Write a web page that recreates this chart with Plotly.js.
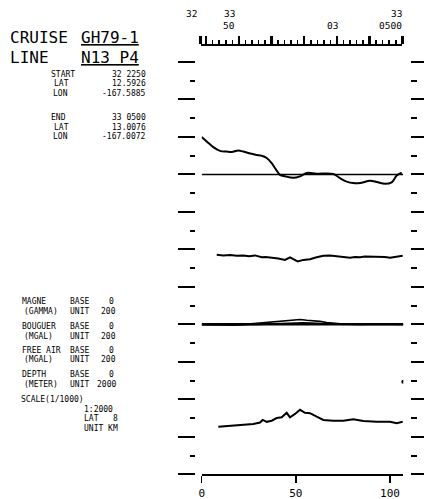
<!DOCTYPE html>
<html><head><meta charset="utf-8">
<script src="https://cdn.plot.ly/plotly-3.0.1.min.js"></script>
<style>html,body{margin:0;padding:0;background:#fff}#chart{width:424px;height:499px}</style>
</head><body><div id="chart"></div>
<script>
// ---- data (distance in km along track; values in chart divisions) ----
const magDist = [0, 2.66, 6.16, 9.72, 13.28, 15.93, 19.44, 22.09, 26.55, 29.21, 31.86, 34.52, 37.17, 39.46, 41.58, 44.24, 48.65, 52.20, 55.76, 61.07, 69.89, 73.45, 77.00, 80.51, 84.07, 89.38, 92.94, 97.34, 100.90, 103.56, 106.21];
const magVal  = [9.00, 8.88, 8.73, 8.63, 8.61, 8.60, 8.64, 8.61, 8.55, 8.52, 8.50, 8.44, 8.30, 8.13, 7.99, 7.95, 7.91, 7.95, 8.04, 8.02, 8.01, 7.90, 7.81, 7.77, 7.77, 7.83, 7.80, 7.75, 7.79, 7.97, 8.05];
const magBase = 8;

const track2Dist = [7.97, 11.5, 15.03, 18.6, 22.09, 25.2, 28.31, 31.86, 34.0, 36.27, 40.68, 44.24, 46.89, 48.65, 50.98, 53.96, 57.51, 61.07, 64.58, 68.14, 70.8, 73.45, 76.1, 78.76, 81.4, 84.07, 86.7, 89.38, 92.0, 94.69, 97.3, 100.0, 103.4, 106.74];
const track2Val  = [5.86, 5.84, 5.85, 5.83, 5.84, 5.82, 5.84, 5.79, 5.80, 5.79, 5.76, 5.72, 5.79, 5.74, 5.68, 5.72, 5.74, 5.79, 5.83, 5.84, 5.82, 5.81, 5.79, 5.78, 5.80, 5.79, 5.81, 5.81, 5.79, 5.79, 5.80, 5.78, 5.81, 5.83];

const gravBase = 4;
const freeAirDist = [0, 9.72, 17.7, 23.0, 28.3, 34.5, 39.8, 45.1, 48.6, 52.2, 55.8, 59.3, 62.8, 66.4, 69.9, 75.2, 84.1, 94.7, 107.06];
const freeAirVal  = [4.00, 3.99, 3.98, 4.00, 4.02, 4.05, 4.07, 4.10, 4.11, 4.13, 4.11, 4.10, 4.08, 4.05, 4.03, 4.01, 4.00, 4.01, 4.00];
const bouguerDist = [0, 10, 20, 30, 36.3, 46.9, 54.0, 61.0, 68.0, 80.0, 95.0, 107.06];
const bouguerVal  = [3.99, 3.98, 3.99, 4.00, 4.01, 4.03, 4.04, 4.03, 4.01, 4.00, 3.99, 4.00];

const depthDist = [8.82, 15.03, 22.09, 27.40, 30.96, 32.40, 34.52, 37.17, 39.83, 42.49, 45.14, 46.89, 49.55, 52.20, 54.86, 57.51, 61.07, 64.58, 69.89, 75.20, 80.51, 85.82, 92.94, 100.00, 103.56, 106.74];
const depthVal  = [1.27, 1.29, 1.31, 1.34, 1.38, 1.45, 1.40, 1.43, 1.50, 1.52, 1.64, 1.52, 1.61, 1.72, 1.64, 1.63, 1.54, 1.45, 1.43, 1.43, 1.47, 1.42, 1.40, 1.40, 1.36, 1.40];
const strayDist = [107.06];
const strayVal  = [2.47];

const distTicks = [0, 50, 100];
const distTickText = ['0', '50', '100'];
// time ruler: minutes after 32 2250
const rulerMajor = [0, 10, 70, 130, 190, 250, 310, 370];
const rulerEnd = 370;

// ---- text ----
const cruiseText = ['CRUISE', 'GH79-1'];
const lineText = ['LINE', 'N13 P4'];
const startLabels = ['START', 'LAT', 'LON'];
const startValues = ['32 2250', '12.5926', '-167.5885'];
const endLabels = ['END', 'LAT', 'LON'];
const endValues = ['33 0500', '13.0076', '-167.0072'];
const trackNames = ['MAGNE', 'BOUGUER', 'FREE AIR', 'DEPTH'];
const trackUnits = ['(GAMMA)', '(MGAL)', '(MGAL)', '(METER)'];
const trackBase = ['0', '0', '0', '0'];
const trackUnit = ['200', '200', '200', '2000'];
const scaleText = ['SCALE(1/1000)', '1:2000', 'LAT   8', 'UNIT KM'];
const rulerLabels = ['32', '33', '50', '03', '33', '0500'];

// ---- layout helpers (pixel -> paper) ----
const W = 424, H = 499;
const PX = x => x / W;
const PY = y => 1 - y / H;
const FONT = 'DejaVu Sans Mono';
const line = {color: '#000', width: 2};

const traces = [
  {x: [0, 107.06], y: [magBase, magBase], mode: 'lines', line: {color: '#000', width: 1.5}, hoverinfo: 'skip'},
  {x: magDist, y: magVal, mode: 'lines', line: {color: '#000', width: 2, shape: 'spline'}},
  {x: track2Dist, y: track2Val, mode: 'lines', line: line},
  {x: [0, 107.06], y: [gravBase, gravBase], mode: 'lines', line: {color: '#000', width: 2.5}},
  {x: freeAirDist, y: freeAirVal, mode: 'lines', line: {color: '#000', width: 1.6}},
  {x: bouguerDist, y: bouguerVal, mode: 'lines', line: {color: '#000', width: 1.6}},
  {x: depthDist, y: depthVal, mode: 'lines', line: line},
  {x: strayDist, y: strayVal, mode: 'markers', marker: {color: '#000', size: 4}},
  {x: [0], y: [0], xaxis: 'x2', yaxis: 'y', mode: 'markers', marker: {opacity: 0}, hoverinfo: 'skip'},
  {x: [0], y: [0], xaxis: 'x', yaxis: 'y2', mode: 'markers', marker: {opacity: 0}, hoverinfo: 'skip'}
];

const ann = [];
function txt(text, x, y, size, anchor) {
  ann.push({text: text, x: PX(x), y: PY(y), xref: 'paper', yref: 'paper', showarrow: false,
    xanchor: anchor || 'left', yanchor: 'middle', borderpad: 0,
    font: {family: FONT, size: size, color: '#000'}});
}
txt(cruiseText[0], 9, 38, 16); txt('<u>' + cruiseText[1] + '</u>', 80, 38, 16);
txt(lineText[0], 9, 57, 16); txt('<u>' + lineText[1] + '</u>', 80, 57, 16);
const sx = [50, 53, 52];
const SS = 8, SP = 9.6;
startLabels.forEach((s, i) => { txt(s, sx[i], 74 + i * SP, SS); txt(startValues[i], 147, 74 + i * SP, SS, 'right'); });
endLabels.forEach((s, i) => { txt(s, sx[i], 117.5 + i * SP, SS); txt(endValues[i], 147, 117.5 + i * SP, SS, 'right'); });
const ty = [301.5, 326.5, 350, 374.5];
trackNames.forEach((s, i) => {
  txt(s, 21, ty[i], SS); txt('BASE', 69, ty[i], SS); txt(trackBase[i], 115, ty[i], SS, 'right');
  txt(trackUnits[i], 23, ty[i] + SP, SS); txt('UNIT', 69, ty[i] + SP, SS); txt(trackUnit[i], 117, ty[i] + SP, SS, 'right');
});
txt(scaleText[0], 20, 399.5, SS);
txt(scaleText[1], 83, 409.2, SS); txt(scaleText[2], 83, 418.8, SS); txt(scaleText[3], 83, 428.4, SS);
txt(rulerLabels[0], 191, 13.5, 9.5, 'center');
txt(rulerLabels[1], 229, 13.5, 9.5, 'center');
txt(rulerLabels[2], 229, 25.5, 9.5, 'center');
txt(rulerLabels[3], 332, 25.5, 9.5, 'center');
txt(rulerLabels[4], 403, 13.5, 9.5, 'right');
txt(rulerLabels[5], 403, 25.5, 9.5, 'right');

const yCommon = {range: [0, 11], showgrid: false, zeroline: false, showline: false, showticklabels: false,
  ticks: 'outside', tickmode: 'linear', tick0: 0, dtick: 1, tickwidth: 2, tickcolor: '#000'};

const layout = {
  width: W, height: H, margin: {l: 0, r: 0, t: 0, b: 0},
  paper_bgcolor: '#fff', plot_bgcolor: 'rgba(0,0,0,0)', showlegend: false,
  font: {family: FONT, color: '#000'},
  xaxis: {domain: [PX(201.7), PX(403.3)], range: [0, 107.06], anchor: 'y', showgrid: false, zeroline: false,
    showline: true, linewidth: 2, linecolor: '#000', ticks: 'outside', tickmode: 'array',
    tickvals: distTicks, ticktext: distTickText, ticklen: 7, tickwidth: 1.5, tickcolor: '#000',
    tickfont: {family: FONT, size: 11, color: '#000'}},
  xaxis2: {domain: [PX(200.7), PX(402.3)], range: [0, rulerEnd], anchor: 'free', position: PY(44.3), side: 'top',
    showgrid: false, zeroline: false, showline: true, linewidth: 1.5, linecolor: '#000', showticklabels: false,
    ticks: 'outside', tickmode: 'array', tickvals: rulerMajor, ticklen: 8, tickwidth: 2.5, tickcolor: '#000',
    minor: {ticks: 'outside', tickmode: 'linear', tick0: 10, dtick: 12, ticklen: 4, tickwidth: 1.5, tickcolor: '#000'}},
  yaxis: Object.assign({}, yCommon, {domain: [PY(474.3), PY(62)], anchor: 'free', position: PX(195), side: 'left',
    ticklen: 17, minor: {ticks: 'outside', tickmode: 'linear', tick0: 0.5, dtick: 1, ticklen: 5, tickwidth: 2, tickcolor: '#000'}}),
  yaxis2: Object.assign({}, yCommon, {overlaying: 'y', matches: 'y', anchor: 'free', position: PX(410), side: 'right',
    ticklen: 13, minor: {ticks: 'outside', tickmode: 'linear', tick0: 0.5, dtick: 1, ticklen: 6, tickwidth: 2, tickcolor: '#000'}}),
  annotations: ann
};

Plotly.newPlot('chart', traces, layout, {displayModeBar: false, staticPlot: true});
</script></body></html>
